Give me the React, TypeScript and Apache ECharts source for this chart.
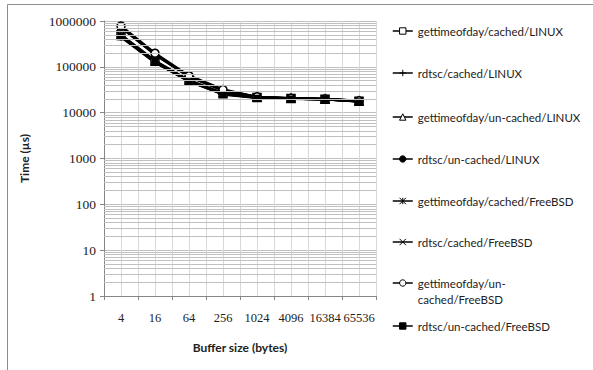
import React, { useEffect, useRef } from "react";
import * as echarts from "echarts";

const categories = ["4", "16", "64", "256", "1024", "4096", "16384", "65536"];
const seriesNames = [
  "gettimeofday/cached/LINUX",
  "rdtsc/cached/LINUX",
  "gettimeofday/un-cached/LINUX",
  "rdtsc/un-cached/LINUX",
  "gettimeofday/cached/FreeBSD",
  "rdtsc/cached/FreeBSD",
  "gettimeofday/un-cached/FreeBSD",
  "rdtsc/un-cached/FreeBSD",
];
const gtodCachedLinux = [480000, 132000, 50000, 26000, 21500, 20400, 19700, 17800];
const rdtscCachedLinux = [460000, 128000, 49000, 25500, 21200, 20300, 19600, 17700];
const gtodUncachedLinux = [740000, 190000, 62000, 31000, 22000, 20600, 19900, 18000];
const rdtscUncachedLinux = [720000, 185000, 61000, 30500, 21800, 20500, 19800, 17900];
const gtodCachedBSD = [500000, 135000, 51000, 26500, 21600, 20400, 19700, 17800];
const rdtscCachedBSD = [470000, 130000, 49500, 25800, 21300, 20300, 19600, 17700];
const gtodUncachedBSD = [780000, 198000, 64000, 32000, 22100, 20600, 19900, 18100];
const rdtscUncachedBSD = [450000, 125000, 48000, 25000, 21000, 20200, 19500, 17600];
const yTicks = [1, 10, 100, 1000, 10000, 100000, 1000000];

const seriesValues = [
  gtodCachedLinux,
  rdtscCachedLinux,
  gtodUncachedLinux,
  rdtscUncachedLinux,
  gtodCachedBSD,
  rdtscCachedBSD,
  gtodUncachedBSD,
  rdtscUncachedBSD,
];

const symbols = [
  "rect",
  "path://M0,5L10,5M5,0L5,10",
  "triangle",
  "circle",
  "path://M0,0L10,10M10,0L0,10M5,0L5,10",
  "path://M0,0L10,10M10,0L0,10",
  "circle",
  "rect",
];
const symbolSizes = [8, 8, 8, 5, 8, 7, 8, 5];
const filled = [false, false, false, true, true, false, false, true];
const legendTops = [32, 74, 118, 160, 202, 243, 283, 327];

export default function App() {
  const ref = useRef<HTMLDivElement>(null);
  useEffect(() => {
    if (!ref.current) return;
    const chart = echarts.init(ref.current, null, { renderer: "svg" });
    // minor log gridlines (2..9 per decade) positioned by the log axis
    const minor: number[] = [];
    for (let d = 0; d < 6; d++) {
      for (let m = 2; m <= 9; m++) minor.push(m * Math.pow(10, d));
    }
    const labelFont = "Lato, 'Open Sans', sans-serif";
    const series: any[] = [
      {
        name: "__grid",
        type: "line",
        data: [],
        z: 1,
        silent: true,
        markLine: {
          silent: true,
          symbol: "none",
          animation: false,
          label: { show: false },
          lineStyle: { color: "#c0c0c0", type: "solid", width: 1 },
          data: minor.map((v) => ({ yAxis: v })),
        },
      },
    ];
    seriesNames.forEach((name, i) => {
      series.push({
        name,
        type: "line",
        data: seriesValues[i],
        symbol: symbols[i],
        symbolSize: symbolSizes[i],
        showAllSymbol: true,
        z: 3,
        lineStyle: { color: "#000", width: 2.5 },
        itemStyle: {
          color: filled[i] ? "#000" : "#fff",
          borderColor: "#000",
          borderWidth: 1.5,
        },
      });
    });
    const legends = seriesNames.map((name, i) => ({
      data: [name],
      orient: "vertical",
      left: 392,
      top: i === 6 ? legendTops[i] - 24 : legendTops[i] - 9,
      padding: 0,
      itemWidth: 20,
      itemHeight: 8,
      itemGap: 0,
      selectedMode: false,
      lineStyle: { width: 1.5 },
      itemStyle: { borderWidth: 1 },
      formatter: i === 6 ? () => " \ngettimeofday/un-\ncached/FreeBSD" : undefined,
      textStyle: {
        fontFamily: labelFont,
        fontSize: 11.5,
        color: "#222",
        lineHeight: 16,
      },
    }));
    chart.setOption({
      animation: false,
      backgroundColor: "#fff",
      graphic: [
        {
          type: "rect",
          shape: { x: 7.5, y: 4.5, width: 640, height: 420 },
          style: { fill: "none", stroke: "#8c8c8c", lineWidth: 1 },
          silent: true,
        },
      ],
      legend: legends,
      grid: { left: 104, right: 217, top: 21, bottom: 74, containLabel: false },
      xAxis: [
        {
          type: "category",
          data: categories,
          boundaryGap: true,
          name: "Buffer size (bytes)",
          nameLocation: "middle",
          nameGap: 45,
          nameTextStyle: { fontFamily: labelFont, fontWeight: "bold", fontSize: 12, color: "#222" },
          axisLine: { lineStyle: { color: "#868686", width: 1 } },
          axisTick: { show: true, length: 4, alignWithLabel: false, lineStyle: { color: "#868686" } },
          axisLabel: {
            interval: 0,
            margin: 15,
            fontFamily: "'Liberation Serif', serif",
            fontSize: 12.5,
            color: "#222",
          },
          splitLine: { show: false },
        },
        {
          type: "value",
          position: "top",
          min: 0,
          max: 16,
          interval: 1,
          axisLine: { show: false },
          axisTick: { show: false },
          axisLabel: { show: false },
          splitLine: { show: true, lineStyle: { color: "#d9d9d9", width: 1 } },
        },
      ],
      yAxis: {
        type: "log",
        logBase: 10,
        min: yTicks[0],
        max: yTicks[yTicks.length - 1],
        name: "Time (µs)",
        nameLocation: "middle",
        nameGap: 74,
        nameRotate: 90,
        nameTextStyle: { fontFamily: labelFont, fontWeight: "bold", fontSize: 12, color: "#222" },
        axisLine: { show: true, lineStyle: { color: "#868686", width: 1 } },
        axisTick: { show: true, length: 4, lineStyle: { color: "#868686" } },
        axisLabel: {
          margin: 8,
          fontFamily: "'Liberation Serif', serif",
          fontSize: 13.5,
          color: "#222",
          formatter: (v: number) => String(Math.round(v)),
        },
        splitLine: { show: true, lineStyle: { color: "#c0c0c0", width: 1 } },
      },
      series,
    });
    return () => chart.dispose();
  }, []);
  return (
    <div
      ref={ref}
      style={{ position: "fixed", left: 0, top: 0, width: 593, height: 370, background: "#fff" }}
    />
  );
}
